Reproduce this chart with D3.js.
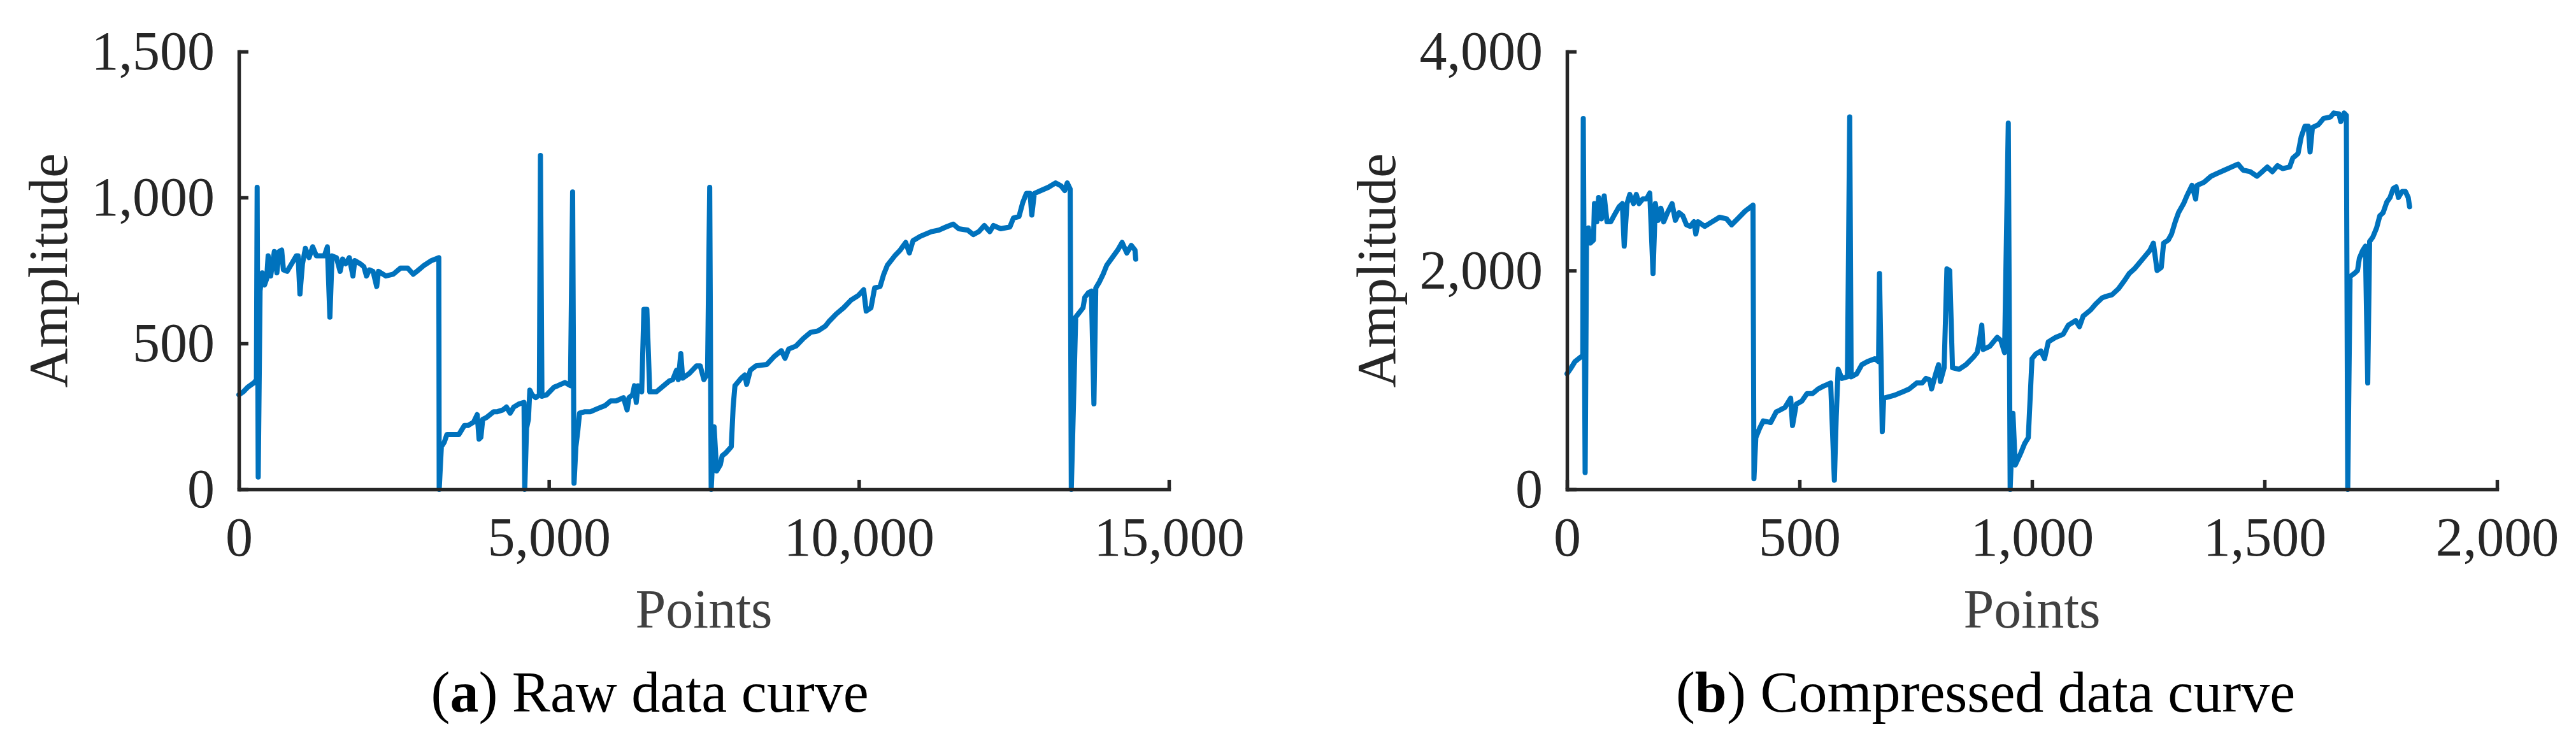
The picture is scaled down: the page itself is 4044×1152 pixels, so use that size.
<!DOCTYPE html>
<html>
<head>
<meta charset="utf-8">
<script src="https://cdn.jsdelivr.net/npm/d3@7"></script>
<style>
  body { margin: 0; background: #fff; }
  svg { display: block; }
  text { font-family: "Liberation Serif", "Times New Roman", serif; }
</style>
</head>
<body>
<div id="chart"></div>
<script>
var width = 4044;
var height = 1152;

// (a) raw data curve
var rawPoints = [0,71,142,248,283,295,312,342,377,413,448,472,513,572,613,649,690,719,778,837,926,955,985,1026,1073,1132,1191,1250,1321,1380,1427,1468,1503,1574,1633,1674,1722,1781,1840,1869,1957,2016,2058,2105,2164,2223,2252,2370,2488,2606,2724,2812,2871,2989,3107,3225,3231,3266,3314,3355,3549,3638,3697,3785,3844,3874,3903,3933,3992,4110,4168,4257,4316,4375,4434,4522,4599,4611,4640,4670,4693,4729,4788,4847,4864,4888,4964,5082,5141,5259,5348,5383,5406,5436,5466,5495,5583,5672,5790,5908,5996,6085,6203,6262,6291,6350,6380,6409,6438,6497,6533,6580,6627,6733,6851,6940,6999,7058,7087,7128,7158,7264,7381,7441,7500,7559,7594,7618,7665,7706,7765,7795,7854,7942,7972,8001,8102,8161,8190,8249,8338,8515,8633,8750,8809,8868,8986,9104,9222,9340,9458,9517,9635,9753,9871,9989,10077,10118,10195,10254,10342,10401,10460,10578,10667,10755,10814,10873,10991,11168,11286,11404,11522,11610,11757,11846,11934,12023,12111,12170,12288,12435,12494,12583,12642,12701,12760,12789,12830,12937,13055,13172,13261,13320,13361,13408,13426,13497,13556,13615,13644,13703,13750,13791,13821,13880,13939,13998,14086,14175,14246,14322,14394,14453,14465];
var rawAmp = [324,334,350,366,376,1035,42,680,742,700,721,800,731,815,742,815,820,752,747,768,800,800,669,773,826,794,831,800,800,800,831,590,800,794,747,789,773,794,731,784,773,763,731,752,747,695,747,731,737,758,758,737,747,768,784,794,0,146,162,188,188,219,219,230,256,172,178,240,246,266,266,272,282,261,282,293,298,0,209,240,340,324,314,324,1144,319,324,350,355,366,355,1019,21,146,199,261,266,266,277,287,303,303,314,272,314,324,355,298,355,334,617,617,334,334,355,371,376,408,376,465,381,397,423,423,376,397,1035,0,214,63,84,115,125,146,282,355,381,392,360,408,423,428,455,475,449,481,491,517,538,543,559,575,601,622,648,664,684,611,622,690,695,737,768,800,820,846,810,852,867,883,888,899,909,893,888,873,883,904,883,904,893,899,930,935,982,1014,1014,940,1014,1024,1035,1050,1040,1024,1050,1029,0,590,606,622,658,674,679,293,690,711,737,768,794,820,846,810,836,820,789];
var rawXTicks = [0, 5000, 10000, 15000];
var rawYTicks = [0, 500, 1000, 1500];

// (b) compressed data curve
var compPoints = [0,9,17,29,34,35,39,42,46,50,57,59,64,68,74,80,86,94,101,112,119,123,129,135,143,149,155,163,171,178,185,190,196,202,208,216,226,233,241,249,257,265,273,277,282,296,312,328,343,354,367,383,400,402,406,414,422,438,450,457,469,481,485,493,505,516,528,540,552,560,567,575,579,583,591,603,608,611,623,634,646,662,670,672,678,681,693,705,721,736,752,764,772,780,784,792,799,803,811,817,823,829,843,858,874,882,886,892,895,909,925,933,941,949,953,959,964,976,984,992,1000,1008,1019,1027,1035,1051,1067,1078,1094,1102,1110,1126,1137,1151,1157,1172,1186,1198,1209,1220,1231,1242,1253,1261,1269,1278,1283,1293,1300,1308,1315,1326,1333,1344,1352,1355,1370,1385,1399,1414,1429,1443,1454,1469,1484,1495,1506,1517,1528,1539,1554,1561,1572,1579,1587,1594,1598,1603,1616,1627,1642,1649,1660,1664,1671,1676,1679,1684,1693,1700,1704,1711,1717,1722,1726,1733,1741,1748,1755,1763,1770,1777,1783,1788,1796,1803,1809,1812];
var compAmp = [1056,1111,1167,1208,1222,3389,153,2250,2389,2250,2278,2611,2445,2667,2472,2681,2445,2445,2500,2583,2611,2222,2611,2695,2611,2695,2611,2653,2653,2708,1972,2611,2458,2569,2445,2528,2611,2458,2528,2500,2417,2403,2445,2333,2445,2403,2445,2486,2472,2417,2472,2542,2597,97,472,556,625,611,708,722,750,833,583,778,806,875,875,917,944,958,972,83,667,1097,1014,1028,3403,1028,1056,1139,1167,1194,1167,1972,528,833,847,861,889,917,972,972,1014,1000,917,1042,1139,986,1111,2014,2000,1111,1097,1139,1208,1250,1333,1500,1278,1306,1389,1361,1250,3347,0,694,222,333,417,472,1194,1236,1264,1194,1347,1389,1417,1500,1542,1486,1583,1639,1694,1750,1760,1778,1833,1903,1972,2014,2069,2125,2181,2250,2000,2028,2250,2278,2333,2445,2528,2611,2681,2778,2653,2778,2806,2861,2889,2917,2945,2972,2917,2903,2861,2903,2945,2903,2958,2931,2945,3028,3069,3222,3319,3319,3083,3306,3333,3389,3403,3439,3431,3361,3439,3417,0,1944,1972,2000,2111,2181,2222,972,2264,2306,2389,2500,2528,2625,2667,2750,2764,2667,2722,2722,2667,2583];
var compXTicks = [0, 500, 1000, 1500, 2000];
var compYTicks = [0, 2000, 4000];

var panels = [
    {x: rawPoints, y: rawAmp, xTicks: rawXTicks, yTicks: rawYTicks,
     left: 375, caption: "a", title: " Raw data curve", capX: 1020},
    {x: compPoints, y: compAmp, xTicks: compXTicks, yTicks: compYTicks,
     left: 2460, caption: "b", title: " Compressed data curve", capX: 3117}
];

var plotW = 1460;
var plotTop = 81;
var plotBottom = 768;
var fmt = d3.format(",");

var svg = d3.select("#chart")
    .append("svg")
    .attr("width", width)
    .attr("height", height);

svg.append("rect")
    .attr("width", width)
    .attr("height", height)
    .attr("fill", "#fff");

panels.forEach(function(p) {
    var x = d3.scaleLinear()
        .domain(d3.extent(p.xTicks))
        .range([p.left, p.left + plotW]);

    var y = d3.scaleLinear()
        .domain(d3.extent(p.yTicks))
        .range([plotBottom, plotTop]);

    var data = p.x.map(function(d, i) {
        return [d, p.y[i]];
    });

    var line = d3.line()
        .x(function(d) { return x(d[0]); })
        .y(function(d) { return y(d[1]); });

    svg.append("path")
        .datum(data)
        .attr("fill", "none")
        .attr("stroke", "#0072BD")
        .attr("stroke-width", 8)
        .attr("stroke-linejoin", "round")
        .attr("stroke-linecap", "round")
        .attr("d", line);

    var gx = svg.append("g")
        .attr("transform", "translate(0," + plotBottom + ")")
        .call(d3.axisBottom(x)
            .tickValues(p.xTicks)
            .tickFormat(fmt)
            .tickSizeInner(-15)
            .tickSizeOuter(0)
            .tickPadding(43));

    var gy = svg.append("g")
        .attr("transform", "translate(" + p.left + ",0)")
        .call(d3.axisLeft(y)
            .tickValues(p.yTicks)
            .tickFormat(fmt)
            .tickSizeInner(-15)
            .tickSizeOuter(0)
            .tickPadding(38));

    [gx, gy].forEach(function(g) {
        g.select(".domain")
            .attr("stroke", "#262626")
            .attr("stroke-width", 5.5)
            .attr("stroke-linecap", "square");
        g.selectAll(".tick line")
            .attr("stroke", "#262626")
            .attr("stroke-width", 5.5);
        g.selectAll(".tick text")
            .attr("fill", "#262626")
            .style("font-family", "'Liberation Serif', serif")
            .style("font-size", "86px");
    });

    svg.append("text")
        .attr("x", p.left + plotW / 2)
        .attr("y", 985)
        .attr("text-anchor", "middle")
        .attr("fill", "#404040")
        .style("font-size", "86px")
        .text("Points");

    svg.append("text")
        .attr("transform", "translate(" + (p.left - 270) + "," + ((plotTop + plotBottom) / 2) + ") rotate(-90)")
        .attr("text-anchor", "middle")
        .attr("fill", "#262626")
        .style("font-size", "86px")
        .text("Amplitude");

    var cap = svg.append("text")
        .attr("x", p.capX)
        .attr("y", 1117)
        .attr("text-anchor", "middle")
        .attr("fill", "#000")
        .style("font-size", "90px");
    cap.append("tspan").text("(");
    cap.append("tspan").style("font-weight", "bold").text(p.caption);
    cap.append("tspan").text(")" + p.title);
});
</script>
</body>
</html>
